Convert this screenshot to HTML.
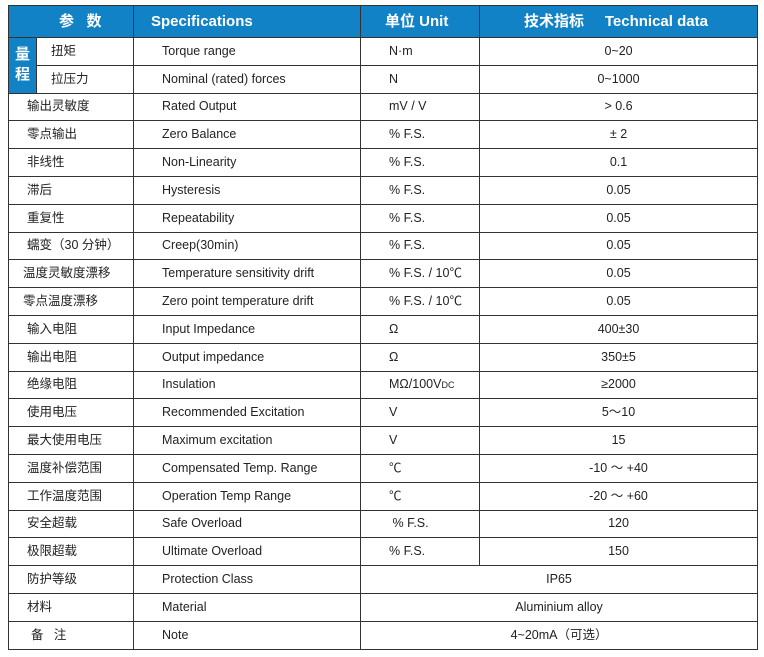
<!DOCTYPE html>
<html><head><meta charset="utf-8"><style>
body{margin:0;background:#fff;width:764px;height:657px;overflow:hidden;font-family:"Liberation Sans","Noto Sans CJK SC",sans-serif;}
table{position:absolute;left:8px;top:5px;border-collapse:collapse;table-layout:fixed;width:749px;font-size:12.5px;color:#222;}
td,th{border:1px solid #333;height:26.8px;padding:0;white-space:nowrap;vertical-align:middle;line-height:15px;}
td span{line-height:15px}
th{background:#1282c6;color:#fff;font-size:15px;font-weight:bold;height:31px;text-align:left;line-height:18px}
td.c{padding-left:18px}
td.s{padding-left:28px}
td.u{padding-left:28px}
td.v{text-align:center}
td.q{background:#1282c6;color:#fff;font-weight:bold;font-size:15px;text-align:center;line-height:20px}
td.sub{padding-left:14px}
</style></head><body>
<table>
<colgroup><col style="width:28px"><col style="width:97px"><col style="width:227px"><col style="width:119px"><col style="width:278px"></colgroup>
<tr><th colspan="2" style="padding-left:50px">参&nbsp;&nbsp;&nbsp;数</th><th style="padding-left:17px">Specifications</th><th style="padding-left:24px">单位 Unit</th><th style="padding-left:44px">技术指标&nbsp;&nbsp;&nbsp;&nbsp;&nbsp;Technical data</th></tr>
<tr><td class="q" rowspan="2">量<br>程</td><td class="sub">扭矩</td><td class="s">Torque range</td><td class="u">N·m</td><td class="v">0~20</td></tr>
<tr><td class="sub">拉压力</td><td class="s">Nominal (rated) forces</td><td class="u">N</td><td class="v">0~1000</td></tr>
<tr><td colspan="2" class="c">输出灵敏度</td><td class="s">Rated Output</td><td class="u">mV / V</td><td class="v">&gt; 0.6</td></tr>
<tr><td colspan="2" class="c">零点输出</td><td class="s">Zero Balance</td><td class="u">% F.S.</td><td class="v">± 2</td></tr>
<tr><td colspan="2" class="c">非线性</td><td class="s">Non-Linearity</td><td class="u">% F.S.</td><td class="v">0.1</td></tr>
<tr><td colspan="2" class="c">滞后</td><td class="s">Hysteresis</td><td class="u">% F.S.</td><td class="v">0.05</td></tr>
<tr><td colspan="2" class="c">重复性</td><td class="s">Repeatability</td><td class="u">% F.S.</td><td class="v">0.05</td></tr>
<tr><td colspan="2" class="c">蠕变（30 分钟）</td><td class="s">Creep(30min)</td><td class="u">% F.S.</td><td class="v">0.05</td></tr>
<tr><td colspan="2" style="padding-left:14px">温度灵敏度漂移</td><td class="s">Temperature sensitivity drift</td><td class="u">% F.S. / 10℃</td><td class="v">0.05</td></tr>
<tr><td colspan="2" style="padding-left:14px">零点温度漂移</td><td class="s">Zero point temperature drift</td><td class="u">% F.S. / 10℃</td><td class="v">0.05</td></tr>
<tr><td colspan="2" class="c">输入电阻</td><td class="s">Input Impedance</td><td class="u">Ω</td><td class="v">400±30</td></tr>
<tr><td colspan="2" class="c">输出电阻</td><td class="s">Output impedance</td><td class="u">Ω</td><td class="v">350±5</td></tr>
<tr><td colspan="2" class="c">绝缘电阻</td><td class="s">Insulation</td><td class="u">MΩ/100V<span style="font-size:9px">DC</span></td><td class="v">≥2000</td></tr>
<tr><td colspan="2" class="c">使用电压</td><td class="s">Recommended Excitation</td><td class="u">V</td><td class="v">5～10</td></tr>
<tr><td colspan="2" class="c">最大使用电压</td><td class="s">Maximum excitation</td><td class="u">V</td><td class="v">15</td></tr>
<tr><td colspan="2" class="c">温度补偿范围</td><td class="s">Compensated Temp. Range</td><td class="u">℃</td><td class="v">-10 ～ +40</td></tr>
<tr><td colspan="2" class="c">工作温度范围</td><td class="s">Operation Temp Range</td><td class="u">℃</td><td class="v">-20 ～ +60</td></tr>
<tr><td colspan="2" class="c">安全超载</td><td class="s">Safe Overload</td><td class="u">&nbsp;% F.S.</td><td class="v">120</td></tr>
<tr><td colspan="2" class="c">极限超载</td><td class="s">Ultimate Overload</td><td class="u">% F.S.</td><td class="v">150</td></tr>
<tr><td colspan="2" class="c">防护等级</td><td class="s">Protection Class</td><td colspan="2" class="v">IP65</td></tr>
<tr><td colspan="2" class="c">材料</td><td class="s">Material</td><td colspan="2" class="v">Aluminium alloy</td></tr>
<tr><td colspan="2" style="padding-left:22px">备&nbsp;&nbsp;&nbsp;注</td><td class="s">Note</td><td colspan="2" class="v">4~20mA（可选）</td></tr>
</table>
</body></html>
